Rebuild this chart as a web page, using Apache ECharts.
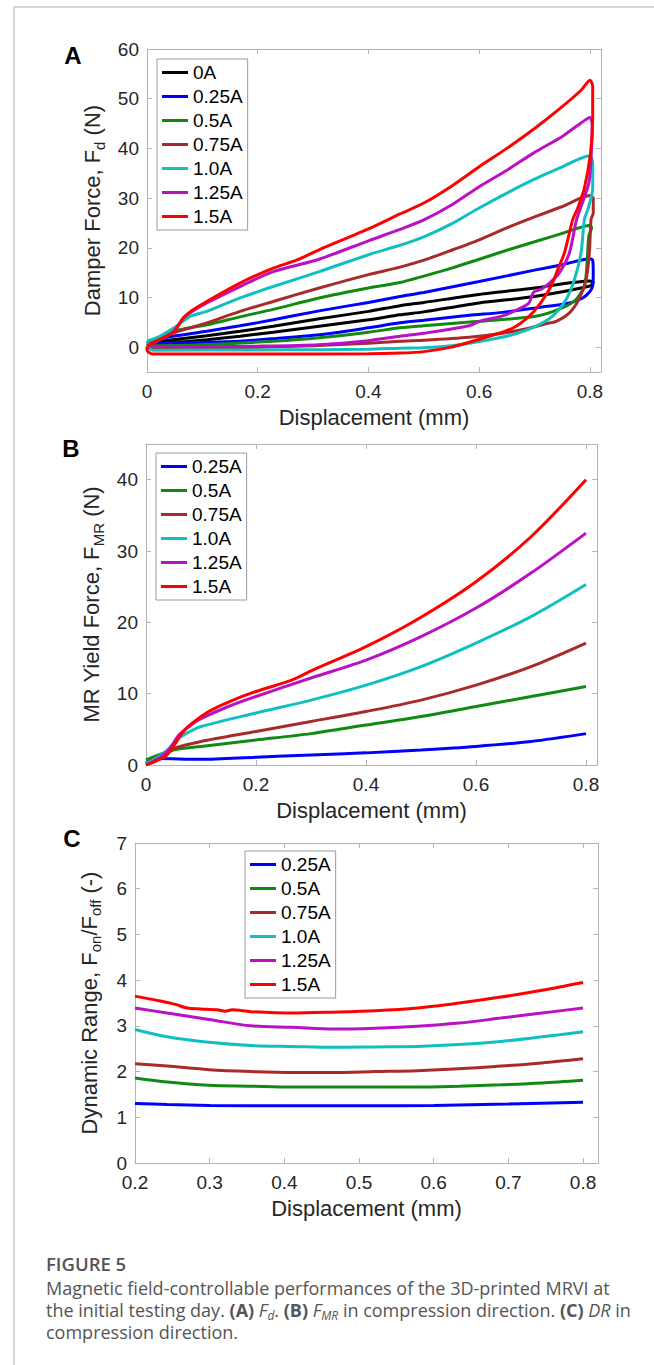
<!DOCTYPE html>
<html><head><meta charset="utf-8">
<script src="https://cdn.jsdelivr.net/npm/echarts@6/dist/echarts.min.js"></script>
<style>html,body{margin:0;padding:0;background:#fff}#c{width:654px;height:1365px}</style>
</head><body><div id="c"></div>
<script>
// ---------- tick values ----------
const xTicksAB = [0, 0.2, 0.4, 0.6, 0.8];
const yTicksA = [0, 10, 20, 30, 40, 50, 60];
const yTicksB = [0, 10, 20, 30, 40];
const xTicksC = [0.2, 0.3, 0.4, 0.5, 0.6, 0.7, 0.8];
const yTicksC = [0, 1, 2, 3, 4, 5, 6, 7];

// ---------- categories ----------
const currentsA = ['0A', '0.25A', '0.5A', '0.75A', '1.0A', '1.25A', '1.5A'];
const currentsBC = ['0.25A', '0.5A', '0.75A', '1.0A', '1.25A', '1.5A'];

// ---------- (A) damper force loops [displacement mm, force N] ----------
const fd_0A = [[0,0.8],[0.047,1.5],[0.108,2.3],[0.168,3.2],[0.228,4.2],[0.311,5.7],[0.4,7.2],[0.457,8.35],[0.5,9.0],[0.6,10.6],[0.7,11.9],[0.8,13.3],
  [0.806,13.0],[0.8,12.3],[0.7,10.2],[0.6,8.9],[0.5,7.1],[0.457,6.5],[0.4,5.5],[0.311,4.2],[0.228,3.0],[0.168,2.2],[0.108,1.5],[0.047,0.9],[0,0.5]];
const fd_025A = [[0,0.8],[0.014,1.5],[0.047,2.2],[0.108,3.2],[0.168,4.3],[0.228,5.5],[0.311,7.3],[0.4,9.0],[0.457,10.2],[0.5,11.0],[0.6,13.2],[0.7,15.5],[0.75,16.6],[0.8,17.8],
  [0.805,17.5],[0.806,15],[0.805,12.3],[0.8,11.2],[0.787,9.9],[0.763,8.9],[0.702,7.9],[0.642,7.0],[0.582,6.4],[0.5,5.4],[0.457,4.9],[0.4,3.9],[0.311,2.5],[0.228,1.7],[0.168,1.2],[0.108,1.0],[0,0.8]];
const fd_05A = [[0,0.8],[0.014,1.2],[0.047,3.2],[0.108,4.5],[0.168,6.1],[0.228,7.6],[0.311,9.9],[0.4,11.9],[0.457,13.0],[0.5,14.3],[0.55,15.9],[0.6,17.7],[0.65,19.5],[0.7,21.2],[0.75,22.9],[0.8,24.5],
  [0.803,24],[0.798,22.4],[0.794,15.6],[0.79,12.3],[0.775,9.6],[0.75,7.9],[0.702,6.2],[0.6,5.2],[0.5,4.3],[0.457,3.9],[0.4,3.0],[0.311,1.9],[0.228,1.2],[0.108,0.5],[0,0.3]];
const fd_075A = [[0,0.3],[0.023,1.5],[0.047,2.8],[0.066,3.5],[0.108,4.9],[0.168,7.2],[0.228,9.2],[0.311,11.9],[0.4,14.6],[0.457,16.1],[0.5,17.5],[0.55,19.5],[0.6,21.6],[0.65,24.0],[0.7,26.2],[0.75,28.3],[0.8,30.5],
  [0.806,30],[0.806,27],[0.802,25.7],[0.799,19],[0.793,13.6],[0.78,9.6],[0.763,6.9],[0.739,5.2],[0.72,4.7],[0.69,3.8],[0.642,2.8],[0.582,2.0],[0.5,1.4],[0.457,1.2],[0.4,0.8],[0.3,0.3],[0.2,0],[0.1,-0.2],[0,-0.3]];
const fd_10A = [[0,1.2],[0.023,2.2],[0.053,4.2],[0.078,6.2],[0.108,7.2],[0.168,9.9],[0.228,12.2],[0.311,15.2],[0.4,18.6],[0.457,20.5],[0.5,22.2],[0.55,24.8],[0.6,28.0],[0.65,31.0],[0.7,33.8],[0.75,36.3],[0.8,38.5],
  [0.805,37],[0.805,32],[0.797,28],[0.79,25.7],[0.784,19],[0.772,13.6],[0.757,9.6],[0.732,6.2],[0.702,4.2],[0.66,2.5],[0.618,1.5],[0.55,0.3],[0.5,-0.1],[0.457,-0.2],[0.4,-0.4],[0.311,-0.5],[0.2,-0.55],[0.01,-0.6],[0,1.2]];
const fd_125A = [[0,0.2],[0.023,1.5],[0.047,3.0],[0.066,5.9],[0.08,7.1],[0.108,8.9],[0.168,12.2],[0.228,15.2],[0.311,17.7],[0.4,21.4],[0.457,23.7],[0.5,25.6],[0.55,28.6],[0.6,32.3],[0.65,35.6],[0.7,39.2],[0.75,42.4],[0.785,45.2],[0.8,46.2],
  [0.804,45],[0.803,40],[0.798,33],[0.776,25.7],[0.763,19],[0.745,15],[0.727,12.9],[0.711,11.6],[0.7,11.2],[0.696,10.6],[0.69,8.9],[0.672,7.7],[0.642,6.3],[0.6,5.2],[0.582,4.3],[0.5,2.8],[0.457,2.2],[0.4,1.3],[0.311,0.5],[0.2,0.2],[0.1,0.1],[0,0.2]];
const fd_15A = [[0,0.2],[0.023,1.5],[0.047,2.9],[0.066,5.9],[0.08,7.3],[0.108,9.2],[0.168,12.9],[0.228,15.9],[0.27,17.5],[0.311,19.6],[0.4,23.8],[0.457,26.8],[0.5,29.0],[0.55,32.4],[0.6,36.3],[0.65,40.0],[0.7,44.0],[0.75,48.4],[0.785,51.8],[0.8,53.7],
  [0.805,52.5],[0.805,46],[0.801,39],[0.79,32],[0.778,28],[0.769,25.7],[0.754,19],[0.742,15.6],[0.73,12.3],[0.711,8.9],[0.69,6.2],[0.66,3.8],[0.618,2.2],[0.582,1.0],[0.55,0],[0.5,-0.9],[0.457,-1.2],[0.4,-1.35],[0.2,-1.4],[0.01,-1.4],[0,-0.6],[0,0.2]];

// ---------- (B) MR yield force ----------
const fmr_025A = [[0,0.2],[0.02,0.9],[0.1,0.8],[0.2,1.1],[0.3,1.4],[0.4,1.7],[0.5,2.1],[0.6,2.6],[0.7,3.3],[0.8,4.4]];
const fmr_05A = [[0,0.7],[0.05,2.1],[0.1,2.6],[0.2,3.5],[0.3,4.4],[0.4,5.6],[0.5,6.8],[0.6,8.2],[0.7,9.6],[0.8,11]];
const fmr_075A = [[0,0.3],[0.02,1.0],[0.05,2.3],[0.1,3.3],[0.2,4.7],[0.3,6.1],[0.4,7.5],[0.5,9.1],[0.6,11.2],[0.7,13.8],[0.8,17.1]];
const fmr_10A = [[0,0.2],[0.02,1.0],[0.04,2.2],[0.06,3.8],[0.08,4.7],[0.1,5.4],[0.2,7.3],[0.3,9.1],[0.4,11.2],[0.5,13.8],[0.6,17.1],[0.7,20.8],[0.8,25.3]];
const fmr_125A = [[0,0],[0.02,0.8],[0.04,2.0],[0.06,4.2],[0.08,5.5],[0.1,6.5],[0.15,8.2],[0.2,9.6],[0.3,12.2],[0.4,14.7],[0.5,18],[0.6,22],[0.7,26.9],[0.8,32.5]];
const fmr_15A = [[0,0],[0.023,0.7],[0.038,1.4],[0.053,3.0],[0.068,4.7],[0.083,5.8],[0.114,7.5],[0.152,8.9],[0.2,10.3],[0.265,11.9],[0.303,13.3],[0.4,16.6],[0.493,20.4],[0.6,25.7],[0.7,32],[0.8,40]];

// ---------- (C) dynamic range ----------
const dr_025A = [[0.2,1.3],[0.243,1.28],[0.3,1.26],[0.4,1.25],[0.5,1.25],[0.6,1.26],[0.7,1.29],[0.8,1.33]];
const dr_05A = [[0.2,1.86],[0.243,1.77],[0.299,1.7],[0.355,1.68],[0.41,1.66],[0.466,1.66],[0.522,1.66],[0.578,1.66],[0.634,1.68],[0.69,1.71],[0.745,1.75],[0.8,1.81]];
const dr_075A = [[0.2,2.17],[0.243,2.12],[0.299,2.04],[0.355,2.0],[0.41,1.98],[0.466,1.98],[0.522,2.0],[0.578,2.02],[0.634,2.06],[0.69,2.12],[0.745,2.19],[0.8,2.28]];
const dr_10A = [[0.2,2.92],[0.243,2.76],[0.299,2.64],[0.355,2.57],[0.41,2.55],[0.466,2.53],[0.522,2.54],[0.578,2.55],[0.634,2.59],[0.69,2.66],[0.745,2.76],[0.8,2.87]];
const dr_125A = [[0.2,3.39],[0.243,3.28],[0.299,3.14],[0.355,3.0],[0.41,2.97],[0.466,2.93],[0.522,2.95],[0.578,2.99],[0.634,3.06],[0.69,3.17],[0.745,3.28],[0.8,3.39]];
const dr_15A = [[0.2,3.65],[0.232,3.55],[0.254,3.47],[0.27,3.39],[0.288,3.37],[0.31,3.35],[0.321,3.32],[0.33,3.35],[0.355,3.31],[0.41,3.28],[0.466,3.30],[0.522,3.33],[0.578,3.39],[0.634,3.5],[0.69,3.63],[0.745,3.78],[0.8,3.95]];

// ---------- styling ----------
const colors = {'0A':'#000000','0.25A':'#0000ff','0.5A':'#118a11','0.75A':'#a82a2a','1.0A':'#10c0c0','1.25A':'#bb11c4','1.5A':'#ff0000'};
const FONT = '"Liberation Sans", Arial, Helvetica, sans-serif';
const CAPFONT = '"Open Sans", "Noto Sans", sans-serif';
const AX = '#b4b4b4';
const TXT = '#262626';

const grids = [
  {left:147, top:49, width:454, height:323},
  {left:146, top:444, width:451, height:321},
  {left:135, top:843, width:463, height:320}
];

function xAxes(g, min, max, ticks, name) {
  const base = {type:'value', gridIndex:g, min:min, max:max, splitLine:{show:false},
    axisLine:{show:true, onZero:false, lineStyle:{color:AX, width:1}},
    axisTick:{show:true, inside:true, length:5, lineStyle:{color:AX}, customValues:ticks}};
  return [
    Object.assign({}, base, {position:'bottom',
      axisLabel:{show:true, customValues:ticks, formatter:v=>String(v), margin:10, color:TXT, fontSize:19, fontFamily:FONT},
      name:name, nameLocation:'middle', nameGap:34, nameTextStyle:{fontSize:22, color:TXT, fontFamily:FONT}}),
    Object.assign({}, base, {position:'top', axisLabel:{show:false}})
  ];
}
function yAxes(g, min, max, ticks, name, gap) {
  const base = {type:'value', gridIndex:g, min:min, max:max, splitLine:{show:false},
    axisLine:{show:true, onZero:false, lineStyle:{color:AX, width:1}},
    axisTick:{show:true, inside:true, length:5, lineStyle:{color:AX}, customValues:ticks}};
  return [
    Object.assign({}, base, {position:'left',
      axisLabel:{show:true, customValues:ticks, formatter:v=>String(v), margin:8, color:TXT, fontSize:19, fontFamily:FONT},
      name:name, nameLocation:'middle', nameRotate:90, nameGap:gap,
      nameTextStyle:{color:TXT, fontFamily:FONT, rich:{
        n:{fontSize:22, color:TXT, fontFamily:FONT, lineHeight:28, verticalAlign:'middle'},
        s:{fontSize:15, color:TXT, fontFamily:FONT, lineHeight:28, verticalAlign:'bottom'}}}}),
    Object.assign({}, base, {position:'right', axisLabel:{show:false}})
  ];
}

const xAxis = [].concat(
  xAxes(0, 0, 0.82, xTicksAB, 'Displacement (mm)'),
  xAxes(1, 0, 0.82, xTicksAB, 'Displacement (mm)'),
  xAxes(2, 0.2, 0.82, xTicksC, 'Displacement (mm)'));
const yAxis = [].concat(
  yAxes(0, -5, 60, yTicksA, '{n|Damper Force, F}{s|d}{n| (N)}', 40),
  yAxes(1, 0, 45, yTicksB, '{n|MR Yield Force, F}{s|MR}{n| (N)}', 40),
  yAxes(2, 0, 7, yTicksC, '{n|Dynamic Range, F}{s|on}{n|/F}{s|off}{n| (-)}', 32));

const dataA = [fd_0A, fd_025A, fd_05A, fd_075A, fd_10A, fd_125A, fd_15A];
const dataB = [fmr_025A, fmr_05A, fmr_075A, fmr_10A, fmr_125A, fmr_15A];
const dataC = [dr_025A, dr_05A, dr_075A, dr_10A, dr_125A, dr_15A];

function mk(name, data, gi, sm) {
  return {type:'line', name:name, data:data, xAxisIndex:gi*2, yAxisIndex:gi*2,
    showSymbol:false, symbol:'none', smooth:sm, color:colors[name],
    lineStyle:{width:3, color:colors[name]}, emphasis:{disabled:true}};
}
const series = [];
currentsA.forEach((n,i)=>series.push(mk(n, dataA[i], 0, 0.25)));
currentsBC.forEach((n,i)=>series.push(mk(n, dataB[i], 1, 0.3)));
currentsBC.forEach((n,i)=>series.push(mk(n, dataC[i], 2, 0.3)));

function legend(left, top, names) {
  return {orient:'vertical', left:left, top:top, data:names, selectedMode:false, icon:'rect',
    itemWidth:26, itemHeight:3, itemGap:5, padding:[4,5,4,5], borderColor:'#9a9a9a', borderWidth:1,
    backgroundColor:'#fff', textStyle:{fontSize:19, color:'#000', fontFamily:FONT, lineHeight:19}};
}

const capRich = {
  t:{fontSize:18, fontFamily:CAPFONT, fill:'#555', lineHeight:22, verticalAlign:'middle'},
  b:{fontSize:18, fontFamily:CAPFONT, fill:'#555', fontWeight:'bold', lineHeight:22, verticalAlign:'middle'},
  i:{fontSize:18, fontFamily:CAPFONT, fill:'#555', fontStyle:'italic', lineHeight:22, verticalAlign:'middle'},
  is:{fontSize:12, fontFamily:CAPFONT, fill:'#555', fontStyle:'italic', lineHeight:22, verticalAlign:'bottom'}
};
function capLine(y, text) {
  return {type:'text', x:46, y:y, style:{text:text, rich:capRich, verticalAlign:'middle', align:'left'}};
}
function panelLabel(x, y, t) {
  return {type:'text', x:x, y:y, style:{text:t, fill:'#000', font:'bold 24px ' + FONT, align:'center', verticalAlign:'middle'}};
}

const option = {
  animation:false,
  backgroundColor:'#fff',
  grid:grids,
  xAxis:xAxis,
  yAxis:yAxis,
  legend:[legend(157,59,currentsA), legend(156,453,currentsBC), legend(245,851,currentsBC)],
  series:series,
  graphic:[
    {type:'line', shape:{x1:14,y1:7,x2:654,y2:7}, style:{stroke:'#c8c8c8', lineWidth:1.5}},
    {type:'line', shape:{x1:14,y1:7,x2:14,y2:1365}, style:{stroke:'#c8c8c8', lineWidth:1.5}},
    panelLabel(73,55,'A'), panelLabel(71,448,'B'), panelLabel(72,838,'C'),
    {type:'text', x:46, y:1263, style:{text:'FIGURE 5', fill:'#555', font:'600 18.5px ' + CAPFONT, verticalAlign:'middle'}},
    capLine(1288, '{t|Magnetic field-controllable performances of the 3D-printed MRVI at}'),
    capLine(1310, '{t|the initial testing day. }{b|(A)}{t| }{i|F}{is|d}{t|. }{b|(B)}{t| }{i|F}{is|MR}{t| in compression direction. }{b|(C)}{t| }{i|DR}{t| in}'),
    capLine(1332, '{t|compression direction.}')
  ]
};
const chart = echarts.init(document.getElementById('c'), null, {renderer:'svg', width:654, height:1365});
chart.setOption(option);
</script></body></html>
